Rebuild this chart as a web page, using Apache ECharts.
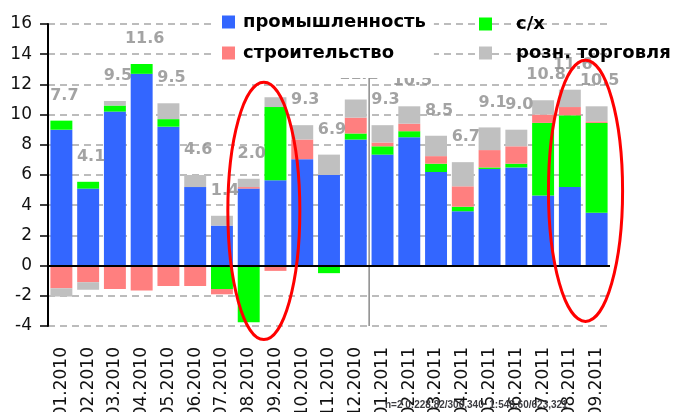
<!DOCTYPE html>
<html>
<head>
<meta charset="utf-8">
<script src="https://cdn.jsdelivr.net/npm/echarts@6/dist/echarts.min.js"></script>
<style>
  html, body { margin: 0; padding: 0; background: #fff; }
  #chart { width: 675px; height: 412px; }
</style>
</head>
<body>
<div id="chart"></div>
<script>
// categories (months)
var months = ['01.2010', '02.2010', '03.2010', '04.2010', '05.2010', '06.2010', '07.2010',
              '08.2010', '09.2010', '10.2010', '11.2010', '12.2010', '01.2011', '02.2011',
              '03.2011', '04.2011', '05.2011', '06.2011', '07.2011', '08.2011', '09.2011'];

// contributions by sector
var promyshl = [9.0, 5.1, 10.2, 12.7, 9.2, 5.2, 2.65, 5.1, 5.65, 7.05, 6.0, 8.35, 7.35, 8.5, 6.2, 3.6, 6.4, 6.5, 4.65, 5.2, 3.5];
var selhoz   = [0.6, 0.45, 0.4, 0.65, 0.5, 0, -1.55, -3.75, 4.85, 0, -0.5, 0.4, 0.55, 0.4, 0.55, 0.3, 0.1, 0.25, 4.8, 4.75, 5.95];
var stroit   = [-1.5, -1.1, -1.55, -1.65, -1.35, -1.35, -0.35, 0.1, -0.35, 1.3, 0, 1.05, 0.25, 0.5, 0.5, 1.35, 1.15, 1.15, 0.55, 0.55, 0.1];
var torgovlya = [-0.55, -0.5, 0.3, 0, 1.05, 0.8, 0.65, 0.55, 0.65, 0.95, 1.35, 1.2, 1.15, 1.15, 1.35, 1.6, 1.5, 1.1, 0.95, 1.15, 1.0];

// totals printed above the bars
var totals = [7.7, 4.1, 9.5, 11.6, 9.5, 4.6, 1.4, 2.0, 10.8, 9.3, 6.9, 11.1, 9.3, 10.5, 8.5, 6.7, 9.1, 9.0, 10.8, 11.6, 10.5];

// highlighted periods: [x from, x to, y from, y to] in axis units
var rings = [
    [6.72, 9.41, -4.9, 12.15],
    [18.7, 21.47, -3.7, 13.6]
];

var yTicks = { min: -4, max: 16, step: 2 };

var FONT = 'DejaVu Sans';

// top of the positive part of every stack (where the total label sits)
var stackTop = months.map(function (m, i) {
    return [promyshl[i], selhoz[i], stroit[i], torgovlya[i]].reduce(function (s, v) {
        return v > 0 ? s + v : s;
    }, 0);
});

function barSeries(name, data, color) {
    return {
        name: name,
        type: 'bar',
        stack: 'all',
        data: data,
        barCategoryGap: '18%',
        itemStyle: { color: color },
        emphasis: { disabled: true },
        animation: false
    };
}

var chart = echarts.init(document.getElementById('chart'));
var ringLog = [];

var series = [
    barSeries('промышленность', promyshl, '#3366ff'),
    barSeries('с/х', selhoz, '#00ff00'),
    barSeries('строительство', stroit, '#ff7f7f'),
    barSeries('розн. торговля', torgovlya, '#c0c0c0'),
    {
        name: 'totals',
        type: 'scatter',
        data: stackTop,
        symbolSize: 0,
        silent: true,
        animation: false,
        label: {
            show: true,
            position: 'top',
            distance: 17,
            offset: [3, 0],
            fontFamily: FONT,
            fontSize: 16,
            fontWeight: 'bold',
            color: '#8c8c8c',
            formatter: function (p) { return totals[p.dataIndex].toFixed(1); }
        }
    },
    {
        // separator between 2010 and 2011
        name: 'sep',
        type: 'line',
        xAxisIndex: 1,
        data: [[months.indexOf('01.2011'), 13], [months.indexOf('01.2011'), yTicks.min]],
        symbol: 'none',
        silent: true,
        animation: false,
        lineStyle: { color: '#8a8a8a', width: 1.5 }
    },
    {
        name: 'rings',
        type: 'custom',
        xAxisIndex: 1,
        data: rings,
        clip: false,
        zlevel: 1,
        z: 20,
        encode: { x: [0, 1], y: [2, 3] },
        renderItem: function (params, api) {
            var a = api.coord([api.value(0), api.value(3)]);
            var b = api.coord([api.value(1), api.value(2)]);
            ringLog.push(params.dataIndex + ':' + a.map(Math.round) + '/' + b.map(Math.round));
            return {
                type: 'ellipse',
                shape: { cx: (a[0] + b[0]) / 2, cy: (a[1] + b[1]) / 2, rx: Math.abs(b[0] - a[0]) / 2, ry: Math.abs(b[1] - a[1]) / 2 },
                style: { fill: null, stroke: '#ff0000', lineWidth: 3 }
            };
        }
    }
];

// zero line
series[0].markLine = {
    silent: true,
    symbol: 'none',
    label: { show: false },
    lineStyle: { color: '#000', width: 2, type: 'solid' },
    data: [{ yAxis: 0 }],
    animation: false
};

var option = {
    backgroundColor: '#fff',
    animation: false,
    grid: { left: 48, right: 65, top: 24, bottom: 86, containLabel: false, outerBoundsMode: 'none' },
    legend: [
        {
            data: ['промышленность', 'строительство'],
            orient: 'vertical',
            left: 216,
            top: 8,
            padding: [5, 8, 16, 6],
            backgroundColor: '#fff',
            icon: 'rect',
            itemWidth: 13,
            itemHeight: 13,
            itemGap: 13,
            selectedMode: false,
            textStyle: { fontFamily: FONT, fontSize: 18, fontWeight: 'bold', color: '#000', lineHeight: 16, padding: [0, 0, 0, 3] }
        },
        {
            data: ['с/х', 'розн. торговля'],
            orient: 'vertical',
            left: 479,
            top: 15,
            padding: 0,
            icon: 'rect',
            itemWidth: 13,
            itemHeight: 13,
            itemGap: 11,
            selectedMode: false,
            textStyle: { fontFamily: FONT, fontSize: 18, fontWeight: 'bold', color: '#000', lineHeight: 16, padding: [0, 0, 0, 19] }
        }
    ],
    xAxis: [
        {
            type: 'category',
            data: months,
            axisLine: { show: false },
            axisTick: { show: false },
            axisLabel: { interval: 0, rotate: 90, margin: 21, fontFamily: FONT, fontSize: 17, color: '#111' }
        },
        { type: 'value', min: 0, max: months.length, show: false }
    ],
    yAxis: {
        type: 'value',
        min: yTicks.min,
        max: yTicks.max,
        interval: yTicks.step,
        axisLine: { show: true, onZero: false, lineStyle: { color: '#000', width: 2 } },
        axisTick: { show: true, inside: false, length: 8, lineStyle: { color: '#000', width: 1.5 } },
        axisLabel: { margin: 16, fontFamily: FONT, fontSize: 17, color: '#111' },
        splitLine: { show: true, lineStyle: { color: '#a6a6a6', width: 1.5, type: [7, 5] } }
    },
    series: series
};

chart.setOption(option);
chart.setOption({ title: { text: 'n=' + ringLog.length + ' ' + ringLog.join('  '), left: 380, top: 395, textStyle: { fontSize: 10 } } });
</script>
</body>
</html>
